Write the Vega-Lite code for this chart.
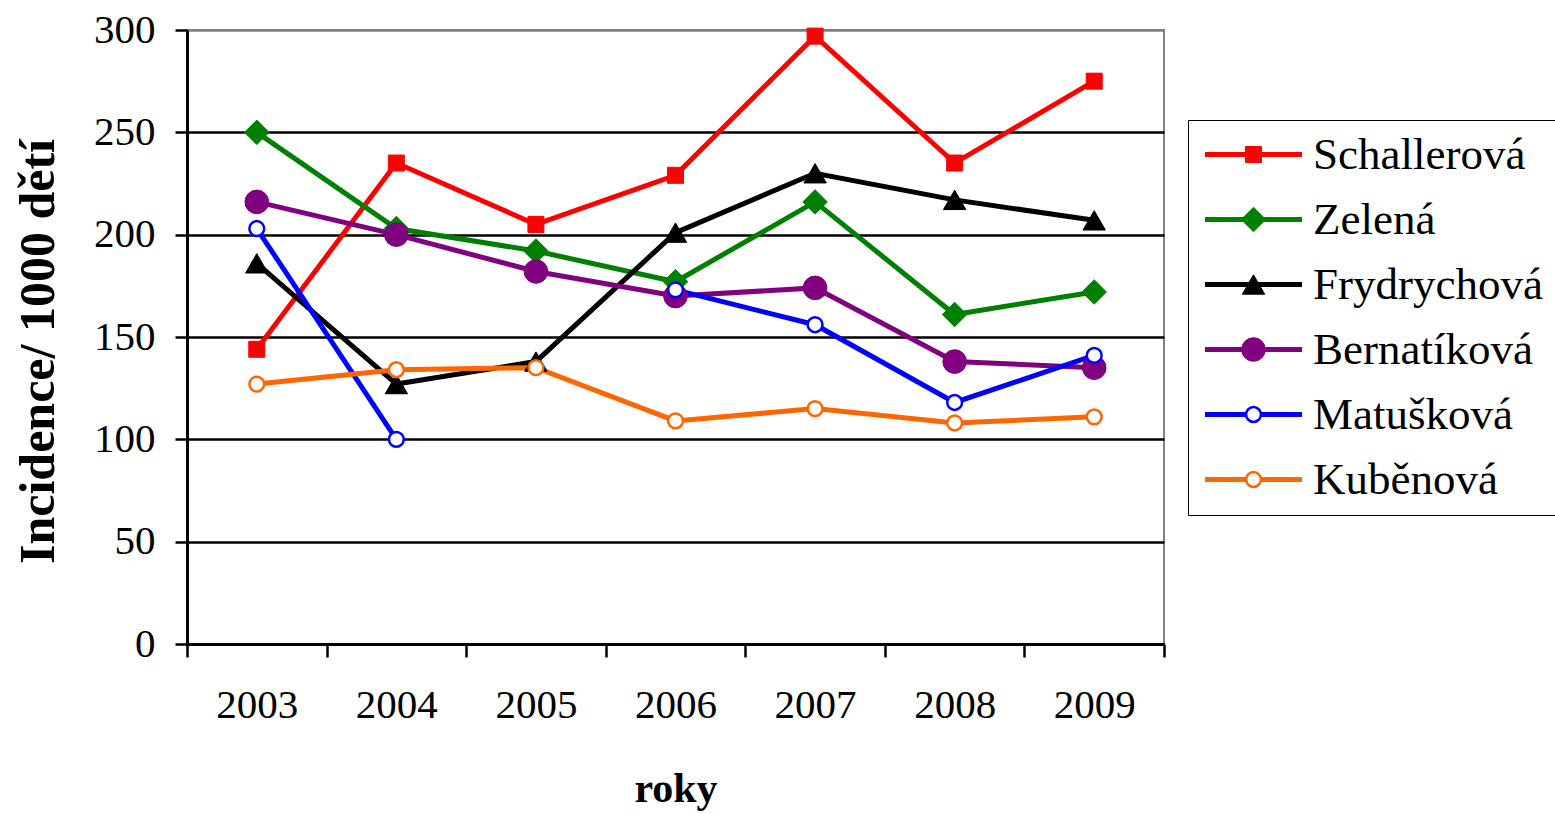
{
  "$schema": "https://vega.github.io/schema/vega-lite/v6.json",
  "width": 977,
  "height": 614,
  "autosize": "none",
  "padding": {"left": 187, "top": 30, "right": 391, "bottom": 170},
  "background": "white",
  "config": {
    "font": "Liberation Serif",
    "view": {"stroke": "#808080", "strokeWidth": 2},
    "axis": {"labelFont": "Liberation Serif", "titleFont": "Liberation Serif", "labelColor": "black", "titleColor": "black", "domainColor": "black", "tickColor": "black"},
    "legend": {"labelFont": "Liberation Serif", "titleFont": "Liberation Serif"}
  },
  "data": {
    "values": [
      {"jmeno": "Schallerová", "rok": 2003, "hodnota": 144},
      {"jmeno": "Schallerová", "rok": 2004, "hodnota": 235},
      {"jmeno": "Schallerová", "rok": 2005, "hodnota": 205},
      {"jmeno": "Schallerová", "rok": 2006, "hodnota": 229},
      {"jmeno": "Schallerová", "rok": 2007, "hodnota": 297},
      {"jmeno": "Schallerová", "rok": 2008, "hodnota": 235},
      {"jmeno": "Schallerová", "rok": 2009, "hodnota": 275},
      {"jmeno": "Zelená", "rok": 2003, "hodnota": 250},
      {"jmeno": "Zelená", "rok": 2004, "hodnota": 203},
      {"jmeno": "Zelená", "rok": 2005, "hodnota": 192},
      {"jmeno": "Zelená", "rok": 2006, "hodnota": 177},
      {"jmeno": "Zelená", "rok": 2007, "hodnota": 216},
      {"jmeno": "Zelená", "rok": 2008, "hodnota": 161},
      {"jmeno": "Zelená", "rok": 2009, "hodnota": 172},
      {"jmeno": "Frydrychová", "rok": 2003, "hodnota": 186},
      {"jmeno": "Frydrychová", "rok": 2004, "hodnota": 127},
      {"jmeno": "Frydrychová", "rok": 2005, "hodnota": 138},
      {"jmeno": "Frydrychová", "rok": 2006, "hodnota": 201},
      {"jmeno": "Frydrychová", "rok": 2007, "hodnota": 230},
      {"jmeno": "Frydrychová", "rok": 2008, "hodnota": 217},
      {"jmeno": "Frydrychová", "rok": 2009, "hodnota": 207},
      {"jmeno": "Bernatíková", "rok": 2003, "hodnota": 216},
      {"jmeno": "Bernatíková", "rok": 2004, "hodnota": 200},
      {"jmeno": "Bernatíková", "rok": 2005, "hodnota": 182},
      {"jmeno": "Bernatíková", "rok": 2006, "hodnota": 170},
      {"jmeno": "Bernatíková", "rok": 2007, "hodnota": 174},
      {"jmeno": "Bernatíková", "rok": 2008, "hodnota": 138},
      {"jmeno": "Bernatíková", "rok": 2009, "hodnota": 135},
      {"jmeno": "Matušková", "rok": 2003, "hodnota": 203},
      {"jmeno": "Matušková", "rok": 2004, "hodnota": 100},
      {"jmeno": "Matušková", "rok": 2005, "hodnota": null},
      {"jmeno": "Matušková", "rok": 2006, "hodnota": 173},
      {"jmeno": "Matušková", "rok": 2007, "hodnota": 156},
      {"jmeno": "Matušková", "rok": 2008, "hodnota": 118},
      {"jmeno": "Matušková", "rok": 2009, "hodnota": 141},
      {"jmeno": "Kuběnová", "rok": 2003, "hodnota": 127},
      {"jmeno": "Kuběnová", "rok": 2004, "hodnota": 134},
      {"jmeno": "Kuběnová", "rok": 2005, "hodnota": 135},
      {"jmeno": "Kuběnová", "rok": 2006, "hodnota": 109},
      {"jmeno": "Kuběnová", "rok": 2007, "hodnota": 115},
      {"jmeno": "Kuběnová", "rok": 2008, "hodnota": 108},
      {"jmeno": "Kuběnová", "rok": 2009, "hodnota": 111}
    ]
  },
  "encoding": {
    "x": {
      "field": "rok",
      "type": "quantitative",
      "scale": {"domain": [2002.5, 2009.5], "nice": false, "zero": false},
      "axis": {
        "values": [2002.5, 2003.5, 2004.5, 2005.5, 2006.5, 2007.5, 2008.5, 2009.5],
        "labelExpr": "datum.value < 2009 ? format(datum.value + 0.5, 'd') : ''",
        "labelOffset": 69.8,
        "labelFontSize": 41,
        "labelPadding": 28,
        "labelFlush": false,
        "labelOverlap": false,
        "labelBound": false,
        "tickSize": 13,
        "tickWidth": 2.5,
        "domainWidth": 3,
        "grid": false,
        "title": "roky",
        "titleFontSize": 42,
        "titleFontWeight": "bold",
        "titleY": 157,
        "titleBaseline": "alphabetic"
      }
    },
    "y": {
      "field": "hodnota",
      "type": "quantitative",
      "scale": {"domain": [0, 300], "nice": false},
      "axis": {
        "values": [0, 50, 100, 150, 200, 250, 300],
        "labelFontSize": 41,
        "labelPadding": 20,
        "tickSize": 12,
        "tickWidth": 2.5,
        "domainWidth": 3,
        "grid": true,
        "gridColor": {"condition": {"test": "datum.value >= 300", "value": "#808080"}, "value": "black"},
        "gridWidth": 2.5,
        "title": "Incidence/ 1000 dětí",
        "titleFontSize": 50,
        "titleFontWeight": "bold",
        "titleAngle": 270,
        "titleAlign": "center",
        "titleBaseline": "alphabetic",
        "titleX": -134,
        "titleY": 321
      }
    }
  },
  "layer": [
    {
      "mark": {"type": "line", "strokeWidth": 5, "invalid": "break-paths-show-domains"},
      "encoding": {
        "color": {
          "field": "jmeno",
          "type": "nominal",
          "sort": ["Schallerová", "Zelená", "Frydrychová", "Bernatíková", "Matušková", "Kuběnová"],
          "scale": {
            "range": ["#FF0000", "#008000", "#000000", "#800080", "#0000FF", "#FF6600"]
          },
          "legend": {
            "title": null,
            "orient": "none",
            "legendX": 1001,
            "legendY": 90,
            "padding": 12,
            "strokeColor": "black",
            "fillColor": "white",
            "symbolType": "M-4,0H4",
            "symbolSize": 588,
            "symbolStrokeWidth": 5,
            "symbolOffset": 31,
            "labelOffset": 37,
            "labelFontSize": 45,
            "labelColor": "black",
            "labelLimit": 0,
            "rowPadding": 19
          }
        }
      }
    },
    {
      "mark": {"type": "point", "opacity": 1},
      "encoding": {
        "shape": {
          "field": "jmeno",
          "type": "nominal",
          "scale": {
            "domain": ["Schallerová", "Zelená", "Frydrychová", "Bernatíková", "Matušková", "Kuběnová"],
            "range": ["square", "diamond", "triangle-up", "circle", "circle", "circle"]
          },
          "legend": {
            "title": null,
            "orient": "none",
            "legendX": 1001,
            "legendY": 90,
            "padding": 12,
            "symbolOffset": 31,
            "labelOffset": 37,
            "labelFontSize": 45,
            "labelColor": "rgba(0,0,0,0)",
            "labelLimit": 0,
            "rowPadding": 19,
            "symbolOpacity": 1
          }
        },
        "fill": {
          "field": "jmeno",
          "type": "nominal",
          "scale": {
            "domain": ["Schallerová", "Zelená", "Frydrychová", "Bernatíková", "Matušková", "Kuběnová"],
            "range": ["#FF0000", "#008000", "#000000", "#800080", "#FFFFFF", "#FFFFFF"]
          }
        },
        "stroke": {
          "field": "jmeno",
          "type": "nominal",
          "scale": {
            "domain": ["Schallerová", "Zelená", "Frydrychová", "Bernatíková", "Matušková", "Kuběnová"],
            "range": ["#FF0000", "#008000", "#000000", "#800080", "#0000FF", "#FF6600"]
          }
        },
        "size": {
          "field": "jmeno",
          "type": "nominal",
          "scale": {
            "type": "ordinal",
            "domain": ["Schallerová", "Zelená", "Frydrychová", "Bernatíková", "Matušková", "Kuběnová"],
            "range": [256, 600, 500, 560, 220, 220]
          }
        },
        "strokeWidth": {
          "field": "jmeno",
          "type": "nominal",
          "scale": {
            "type": "ordinal",
            "domain": ["Schallerová", "Zelená", "Frydrychová", "Bernatíková", "Matušková", "Kuběnová"],
            "range": [1, 1, 1, 1, 2.5, 2.5]
          }
        }
      }
    }
  ]
}
